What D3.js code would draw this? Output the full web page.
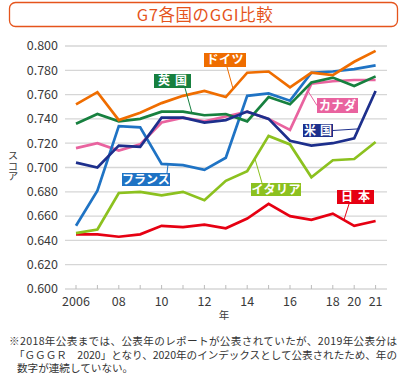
<!DOCTYPE html>
<html><head><meta charset="utf-8">
<script src="https://cdn.jsdelivr.net/npm/d3@7"></script>
<style>
body{margin:0;background:#fff}
svg{display:block;font-family:"Noto Sans CJK JP","Noto Sans",sans-serif}
</style>
</head><body>
<svg id="c" width="400" height="378"></svg>
<script>
// ---- data ----
const years = ["2006","2007","2008","2009","2010","2011","2012","2013","2014","2015","2016","2017","2018","2020","2021"];
const xTickLabels = ["2006","08","10","12","14","16","18","20","21"];
const xTickYears  = ["2006","2008","2010","2012","2014","2016","2018","2020","2021"];
const yTicks = [0.600,0.620,0.640,0.660,0.680,0.700,0.720,0.740,0.760,0.780,0.800];

const japan   = [0.645,0.645,0.643,0.645,0.652,0.651,0.653,0.650,0.658,0.670,0.660,0.657,0.662,0.652,0.656];
const italy   = [0.646,0.649,0.679,0.680,0.677,0.680,0.673,0.689,0.697,0.726,0.719,0.692,0.706,0.707,0.721];
const canada  = [0.716,0.720,0.714,0.719,0.737,0.741,0.738,0.742,0.746,0.740,0.731,0.769,0.771,0.772,0.772];
const france  = [0.652,0.681,0.734,0.733,0.703,0.702,0.698,0.708,0.759,0.761,0.755,0.778,0.779,0.781,0.784];
const uk      = [0.736,0.744,0.738,0.740,0.746,0.746,0.743,0.744,0.738,0.758,0.752,0.770,0.774,0.767,0.775];
const usa     = [0.704,0.700,0.718,0.717,0.741,0.741,0.737,0.739,0.746,0.740,0.722,0.718,0.720,0.724,0.763];
const germany = [0.752,0.762,0.739,0.745,0.753,0.759,0.763,0.758,0.778,0.779,0.766,0.778,0.776,0.787,0.796];

const seriesNames = ["日本","イタリア","カナダ","フランス","英国","米国","ドイツ"];
const seriesData  = [japan, italy, canada, france, uk, usa, germany];

// ---- styles / layout ----
const colors = {"日本":"#e60012","イタリア":"#8cc11f","カナダ":"#e9639f","フランス":"#1f73c4","英国":"#17803f","米国":"#1d2f8c","ドイツ":"#ef6d00"};
const titleColor = "#e5541c";

// label annotations: box (x,y,w,h), leader start, leader end at fractional index along series
const labels = [
  {name:"ドイツ", text:"ドイツ", box:[204,53,42,14], from:[227,67], at:7.34, ls:0.5},
  {name:"英国", text:"英国", box:[154,74,37,14], from:[185,88], at:5.42, ls:5},
  {name:"カナダ", text:"カナダ", box:[317,98,41,15], from:[317,105.5], at:10.84, ls:0.5},
  {name:"米国", text:"米国", box:[303,124,30,13], from:[333,130.5], at:13.2, ls:4},
  {name:"フランス", text:"フランス", box:[122,173,48,13], from:[167,173], at:4.3, ls:0},
  {name:"イタリア", text:"イタリア", box:[251,183,50,13], from:[262,183], at:8.36, ls:0.5},
  {name:"日本", text:"日本", box:[337,190,37,14], from:[349,204], at:12.52, ls:5}
];

const svg = d3.select("#c");
const x = d3.scalePoint().domain(years).range([76, 375.6]);
const y = d3.scaleLinear().domain([0.6, 0.8]).range([289, 46]);
const plotL = 65, plotR = 387;

// title
svg.append("rect").attr("x",9.5).attr("y",2.5).attr("width",388).attr("height",24)
  .attr("rx",6).attr("fill","#fff").attr("stroke",titleColor).attr("stroke-width",1.3);
svg.append("text").attr("x",205).attr("y",20.5).attr("text-anchor","middle")
  .attr("font-size",16.5).attr("fill",titleColor).attr("letter-spacing",0.6).text("G7各国のGGI比較");

// grid
svg.append("g").selectAll("line").data(yTicks).join("line")
  .attr("x1",plotL).attr("x2",plotR)
  .attr("y1",d=>y(d)).attr("y2",d=>y(d))
  .attr("stroke","#d6d6d6").attr("stroke-width",1.3);

// y tick labels
svg.append("g").selectAll("text").data(yTicks).join("text")
  .attr("x",58).attr("y",d=>y(d)+4.3).attr("text-anchor","end")
  .attr("font-size",12.5).attr("fill","#3a3a3a").text(d=>d3.format(".3f")(d));

// y axis title (vertical writing, upright characters)
svg.append("text").attr("x",13).attr("y",166).attr("text-anchor","middle")
  .attr("font-size",10.5).attr("fill","#3a3a3a")
  .style("writing-mode","vertical-rl").style("text-orientation","upright")
  .text("スコア");

// x ticks
svg.append("g").selectAll("line").data(years).join("line")
  .attr("x1",d=>x(d)).attr("x2",d=>x(d)).attr("y1",285).attr("y2",289)
  .attr("stroke","#bbb").attr("stroke-width",1);
svg.append("g").selectAll("text").data(xTickYears).join("text")
  .attr("x",d=>x(d)).attr("y",305.5).attr("text-anchor","middle")
  .attr("font-size",12.5).attr("fill","#3a3a3a").text((d,i)=>xTickLabels[i]);
svg.append("text").attr("x",224).attr("y",318.5).attr("text-anchor","middle")
  .attr("font-size",10.5).attr("fill","#3a3a3a").text("年");

// lines
const line = d3.line().x((d,i)=>x(years[i])).y(d=>y(d));
svg.append("g").selectAll("path").data(seriesData).join("path")
  .attr("d",d=>line(d)).attr("fill","none")
  .attr("stroke",(d,i)=>colors[seriesNames[i]]).attr("stroke-width",2.7)
  .attr("stroke-linejoin","miter");

// label annotations
labels.forEach(l=>{
  const s = seriesData[seriesNames.indexOf(l.name)];
  const i0 = Math.floor(l.at), t = l.at - i0;
  const ex = x(years[i0]) + t*(x(years[i0+1]) - x(years[i0]));
  const ey = y(s[i0] + t*(s[i0+1]-s[i0]));
  svg.append("line").attr("x1",l.from[0]).attr("y1",l.from[1]).attr("x2",ex).attr("y2",ey)
    .attr("stroke",colors[l.name]).attr("stroke-width",1);
  svg.append("rect").attr("x",l.box[0]).attr("y",l.box[1]).attr("width",l.box[2]).attr("height",l.box[3])
    .attr("fill",colors[l.name]);
  svg.append("text").attr("x",l.box[0]+l.box[2]/2 + l.ls/2).attr("y",l.box[1]+l.box[3]/2+4.2)
    .attr("text-anchor","middle").attr("font-size",12).attr("font-weight","bold")
    .attr("letter-spacing",l.ls).attr("fill","#fff").text(l.text);
});

// footnote
const notes = [
  ["※2018年公表までは、公表年のレポートが公表されていたが、2019年公表分は",9],
  ["「ＧＧＧＲ　2020」となり、2020年のインデックスとして公表されたため、年の",14],
  ["数字が連続していない。",17]
];
svg.append("g").selectAll("text").data(notes).join("text")
  .attr("x",d=>d[1]).attr("y",(d,i)=>345+i*13.5)
  .attr("font-size",10.6).attr("fill","#333").attr("textLength",(d,i)=>i<2?(i===0?388:383):null)
  .attr("lengthAdjust","spacing").text(d=>d[0]);
</script>
</body></html>
